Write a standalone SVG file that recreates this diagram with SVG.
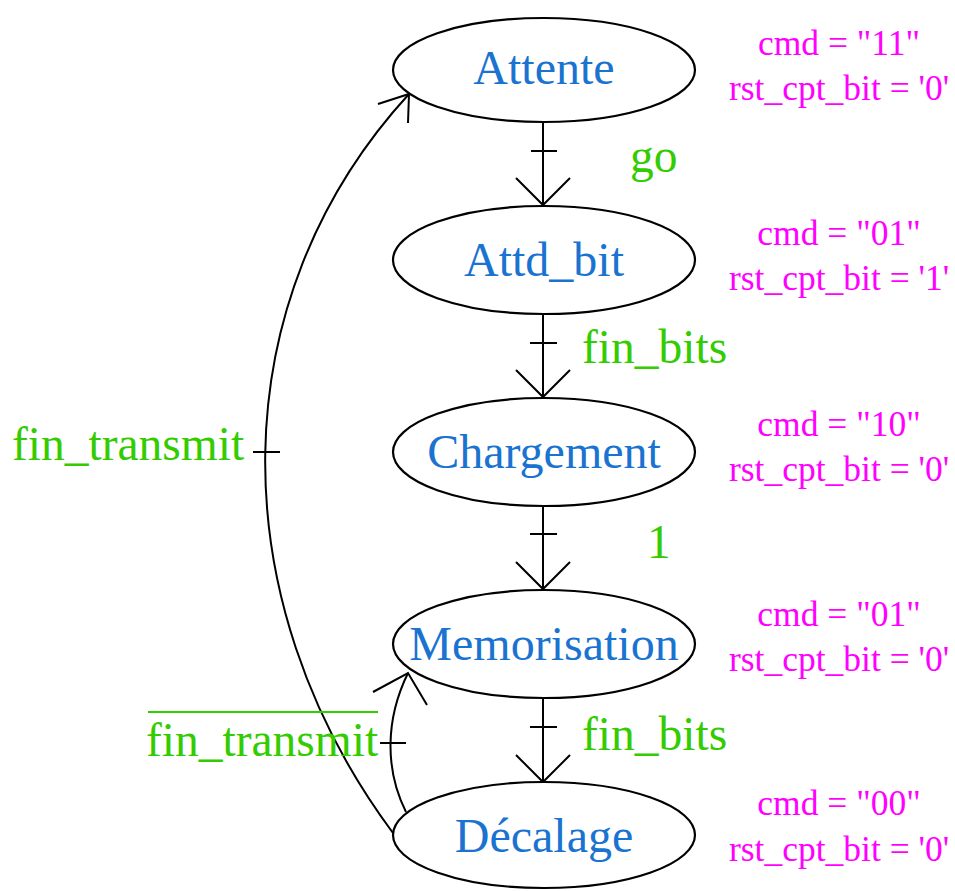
<svg xmlns="http://www.w3.org/2000/svg" width="955" height="891" viewBox="0 0 955 891">
<style>
.node ellipse{fill:#fff;stroke:#000;stroke-width:2.2}
.node text{font-family:"Liberation Serif","Times New Roman",serif;font-size:48px;fill:#1a73d0;text-anchor:middle}
.out text{font-family:"Liberation Serif","Times New Roman",serif;font-size:35.5px;fill:#ff00ff;text-anchor:middle}
.lbl{font-family:"Liberation Serif","Times New Roman",serif;font-size:47.5px;fill:#33cc00}
#connectors path,#connectors line{fill:none;stroke:#000;stroke-width:2}
</style>
<rect width="955" height="891" fill="#fff"/>
<g id="connectors">
<line x1="543" y1="122" x2="543" y2="205"/><line x1="531" y1="151" x2="557" y2="151"/><path d="M516 178 L543 205 L570 178"/>
<line x1="543" y1="314" x2="543" y2="397"/><line x1="530" y1="343" x2="557" y2="343"/><path d="M516 370 L543 397 L570 370"/>
<line x1="543" y1="506" x2="543" y2="589"/><line x1="530" y1="534" x2="557" y2="534"/><path d="M516 562 L543 589 L570 562"/>
<line x1="543" y1="698" x2="543" y2="782"/><line x1="530" y1="727" x2="557" y2="727"/><path d="M516 755 L543 782 L570 755"/>
<path d="M393 833 C220 600 220 300 409 94"/><line x1="253" y1="452" x2="280" y2="452"/><path d="M378 104 L409 94 L408 123"/>
<path d="M406 812 C385 770 385 720 408 673"/><line x1="380" y1="743" x2="406" y2="743"/><path d="M373 692 L408 673 L427 705"/>
</g>
<g id="attente" class="node"><ellipse cx="544" cy="70" rx="151" ry="52"/><text x="544" y="84">Attente</text></g>
<g id="attd_bit" class="node"><ellipse cx="544" cy="260" rx="151" ry="54"/><text x="544" y="276">Attd_bit</text></g>
<g id="chargement" class="node"><ellipse cx="544" cy="452" rx="151" ry="54"/><text x="544" y="468">Chargement</text></g>
<g id="memorisation" class="node"><ellipse cx="544" cy="644" rx="151" ry="54"/><text x="544" y="660">Memorisation</text></g>
<g id="decalage" class="node"><ellipse cx="544" cy="835" rx="151" ry="53"/><text x="544" y="852">Décalage</text></g>
<g id="outputs" class="out">
<text x="839" y="55">cmd = "11"</text><text x="839" y="100">rst_cpt_bit = '0'</text>
<text x="839" y="245">cmd = "01"</text><text x="839" y="290">rst_cpt_bit = '1'</text>
<text x="839" y="436">cmd = "10"</text><text x="839" y="481">rst_cpt_bit = '0'</text>
<text x="839" y="626">cmd = "01"</text><text x="839" y="671">rst_cpt_bit = '0'</text>
<text x="839" y="815">cmd = "00"</text><text x="839" y="861">rst_cpt_bit = '0'</text>
</g>
<g id="labels">
<text class="lbl" x="630" y="172">go</text>
<text class="lbl" x="582" y="363">fin_bits</text>
<text class="lbl" x="647" y="558">1</text>
<text class="lbl" x="582" y="750">fin_bits</text>
<text class="lbl" x="12" y="460">fin_transmit</text>
<text class="lbl" x="146" y="756">fin_transmit</text>
<line x1="148" y1="712" x2="378" y2="712" stroke="#33cc00" stroke-width="2"/>
</g>
</svg>
